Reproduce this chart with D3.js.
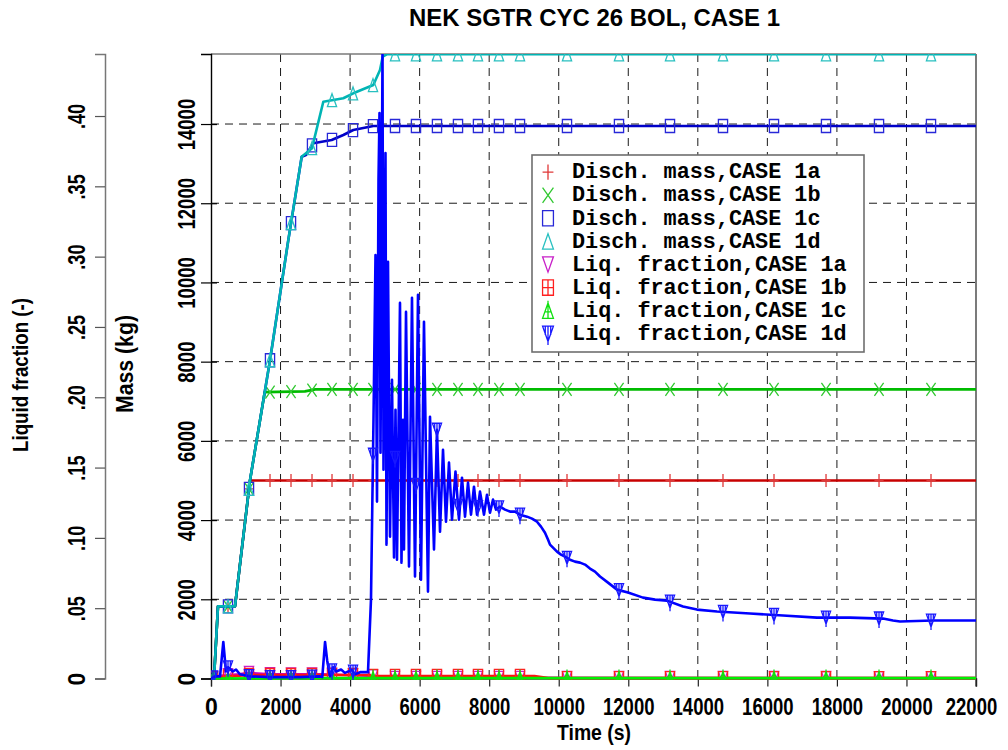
<!DOCTYPE html>
<html>
<head>
<meta charset="utf-8">
<script src="https://cdn.jsdelivr.net/npm/d3@7"></script>
<style>
  body { margin: 0; background: #fff; }
  svg { display: block; }
</style>
</head>
<body>
<svg id="chart" width="1008" height="750"></svg>
<script>
// ---- data -------------------------------------------------------------
const chartTitle = "NEK SGTR CYC 26 BOL, CASE 1";
const timeTicks = [0, 2000, 4000, 6000, 8000, 10000, 12000, 14000, 16000, 18000, 20000, 22000];
const massTicks = [0, 2000, 4000, 6000, 8000, 10000, 12000, 14000];
const fracTicks = [0, 0.05, 0.10, 0.15, 0.20, 0.25, 0.30, 0.35, 0.40];
const timeMax = 22000;
const massMax = 15768;
const fracMax = 0.4441;

// times (s) at which the plotting program put a symbol on every curve
const symbolTimes = [58, 489, 1093, 1697, 2301, 2905, 3480, 4084, 4659, 5292, 5895, 6499,
  7103, 7678, 8282, 8886, 10238, 11733, 13200, 14724, 16191, 17687, 19211, 20706];

// discharged mass (kg) vs time (s)
const massCase1a = [[0,0],[86,0],[201,1820],[690,1820],[1122,5000],[22000,5000]];
const massCase1b = [[0,0],[86,0],[201,1820],[690,1820],[1122,5004],[1545,7230],[2700,7250],
  [3000,7300],[22000,7300]];
const massCase1c = [[0,0],[86,0],[201,1820],[690,1820],[1122,5004],[1697,8036],[2223,11069],
  [2608,13174],[2732,13217],[2942,13513],[3471,13597],[3805,13723],[4092,13849],[4668,13950],
  [22000,13950]];
const massCase1d = [[0,0],[86,0],[201,1820],[690,1820],[1122,5004],[1697,8036],[2223,11069],
  [2608,13174],[2905,13390],[3230,14564],[3517,14607],[3805,14650],[4092,14776],[4668,14986],
  [4860,15365],[4938,15701],[5053,15760],[22000,15760]];

// break liquid fraction (-) vs time (s)
const fracCase1a = [[0,0],[250,0.002],[800,0.003],[1100,0.004],[1700,0.003],[3200,0.003],
  [4500,0.002],[5000,0.0005],[22000,0.0003]];
const fracCase1b = [[0,0],[250,0.001],[1100,0.0025],[4550,0.0025],[4600,0.0018],[9300,0.0018],
  [9700,0.0003],[22000,0.0003]];
const fracCase1c = [[0,0],[3000,0.0003],[22000,0.0003]];
const fracCase1d = [[0,0],[115,0.0015],[260,0.0015],[354,0.026],[430,0.005],[490,0.008],
  [630,0.005],[720,0.0064],[830,0.003],[1120,0.0015],[1700,0.001],[2560,0.001],[3130,0.0015],
  [3200,0.001],[3280,0.026],[3340,0.013],[3420,0.0015],[3510,0.008],[3600,0.005],[3740,0.0064],
  [3850,0.004],[4050,0.006],[4140,0.003],[4290,0.0045],[4515,0.0045],
  [4601,0.0561],[4673,0.184],[4731,0.3012],[4774,0.1258],[4817,0.3545],[4846,0.4021],
  [4875,0.1606],[4932,0.444],[4961,0.1485],[5018,0.3737],[5047,0.0952],[5090,0.2963],
  [5148,0.1009],[5205,0.2124],[5263,0.086],[5306,0.1911],[5349,0.0845],[5435,0.2671],
  [5478,0.0824],[5522,0.184],[5550,0.0917],[5608,0.2607],[5694,0.0796],[5780,0.2707],
  [5867,0.0725],[5953,0.2728],[6039,0.0703],[6125,0.2537],[6240,0.0618],[6298,0.1861],
  [6413,0.0917],[6499,0.1769],[6586,0.1044],[6672,0.1627],[6758,0.1115],[6844,0.1535],
  [6931,0.113],[7031,0.1471],[7132,0.113],[7218,0.1428],[7305,0.1151],[7391,0.1393],
  [7477,0.1165],[7563,0.1364],[7650,0.1165],[7736,0.1329],[7851,0.1165],[7937,0.1307],
  [8023,0.1179],[8110,0.1272],[8196,0.1201],[8311,0.1222],[8455,0.1201],[8599,0.1187],
  [8742,0.1187],[8886,0.1165],[9088,0.1151],[9231,0.1137],[9375,0.1115],[9490,0.108],
  [9605,0.1037],[9691,0.0988],[9749,0.0952],[9864,0.0924],[9950,0.0902],[10065,0.0881],
  [10180,0.0867],[10324,0.0845],[10468,0.0831],[10612,0.0824],[10756,0.081],[10899,0.0782],
  [11043,0.076],[11187,0.0725],[11417,0.0682],[11676,0.0632],[11992,0.0611],[12423,0.0575],
  [12769,0.0561],[13114,0.0554],[13574,0.0512],[13976,0.049],[14552,0.0476],[15501,0.0462],
  [16450,0.0448],[17427,0.0433],[18376,0.0433],[19325,0.0426],[19613,0.0412],[19814,0.0405],
  [20763,0.0412],[22000,0.0412]];

const seriesNames = ["Disch. mass,CASE 1a", "Disch. mass,CASE 1b", "Disch. mass,CASE 1c",
  "Disch. mass,CASE 1d", "Liq. fraction,CASE 1a", "Liq. fraction,CASE 1b",
  "Liq. fraction,CASE 1c", "Liq. fraction,CASE 1d"];

// ---- styling ----------------------------------------------------------
const sans = "'Liberation Sans',Arial,Helvetica,sans-serif";
const mono = "'Liberation Mono','Courier New','DejaVu Sans Mono',monospace";

const series = [
  { name: seriesNames[0], data: massCase1a, axis: "mass", line: "#c80000", mark: "#e03838", sym: "plus" },
  { name: seriesNames[1], data: massCase1b, axis: "mass", line: "#00bb00", mark: "#30c830", sym: "cross" },
  { name: seriesNames[2], data: massCase1c, axis: "mass", line: "#0000c8", mark: "#2828d8", sym: "rect" },
  { name: seriesNames[3], data: massCase1d, axis: "mass", line: "#00b4b4", mark: "#28c0c0", sym: "triUp" },
  { name: seriesNames[4], data: fracCase1a, axis: "frac", line: "#c800c8", mark: "#c820c8", sym: "triDown" },
  { name: seriesNames[5], data: fracCase1b, axis: "frac", line: "#ff1010", mark: "#ff2020", sym: "boxPlus" },
  { name: seriesNames[6], data: fracCase1c, axis: "frac", line: "#00f000", mark: "#10e010", sym: "triUpBar" },
  { name: seriesNames[7], data: fracCase1d, axis: "frac", line: "#0000ff", mark: "#1818ff", sym: "triDownBars" }
];

const plot = { left: 211, right: 976, top: 54, bottom: 678.5 };

const svg = d3.select("#chart");

const x = d3.scaleLinear().domain([0, timeMax]).range([plot.left, plot.right]);
const yMass = d3.scaleLinear().domain([0, massMax]).range([plot.bottom, plot.top]);
const yFrac = d3.scaleLinear().domain([0, fracMax]).range([plot.bottom, plot.top]);

svg.append("defs").append("clipPath").attr("id", "plotClip")
  .append("rect")
  .attr("x", plot.left).attr("y", plot.top)
  .attr("width", plot.right - plot.left).attr("height", plot.bottom - plot.top + 1.5);

// condensed bold labels: glyphs are squeezed to a fixed advance per character
const digitW = 10.3, dotW = 4.6;
const labelWidth = s => [...s].reduce((w, c) => w + (c === "." ? dotW : digitW), 0);
function boldLabel(sel, size) {
  sel.style("font-family", sans).style("font-weight", "bold").style("font-size", size + "px");
}
function squeezeTicks(sel) {
  sel.each(function () {
    const t = d3.select(this);
    const s = t.text();
    if (s.length > 1) t.attr("textLength", labelWidth(s)).attr("lengthAdjust", "spacingAndGlyphs");
  });
}

// ---- title ----
svg.append("text")
  .attr("x", 594.5).attr("y", 26)
  .attr("text-anchor", "middle")
  .attr("textLength", 371).attr("lengthAdjust", "spacingAndGlyphs")
  .call(boldLabel, 24)
  .text(chartTitle);

// ---- grid ----
const grid = svg.append("g");
grid.selectAll("line.v").data(timeTicks.filter(t => t > 0 && t < timeMax)).join("line")
  .attr("x1", d => x(d)).attr("x2", d => x(d))
  .attr("y1", plot.top).attr("y2", plot.bottom)
  .attr("stroke", "#1a1a1a").attr("stroke-width", 1).attr("stroke-dasharray", "8,6");
grid.selectAll("line.h").data(massTicks.filter(m => m > 0)).join("line")
  .attr("x1", plot.left).attr("x2", plot.right)
  .attr("y1", d => yMass(d)).attr("y2", d => yMass(d))
  .attr("stroke", "#1a1a1a").attr("stroke-width", 1).attr("stroke-dasharray", "8,6");

// ---- frame ----
svg.append("line").attr("x1", plot.left).attr("x2", plot.right).attr("y1", plot.top).attr("y2", plot.top)
  .attr("stroke", "#7a7a7a").attr("stroke-width", 1.5);
svg.append("line").attr("x1", plot.right).attr("x2", plot.right).attr("y1", plot.top).attr("y2", plot.bottom + 8)
  .attr("stroke", "#222").attr("stroke-width", 1.2);

// ---- axes ----
// time axis
const xAxis = d3.axisBottom(x).tickValues(timeTicks).tickSize(8).tickFormat(d3.format("d"));
const gx = svg.append("g").attr("transform", `translate(0,${plot.bottom})`).call(xAxis);
gx.select(".domain").attr("stroke", "#333").attr("stroke-width", 1.3);
gx.selectAll(".tick line").attr("stroke", "#222").attr("stroke-width", 1.2);
gx.selectAll(".tick text").attr("fill", "#000").attr("dy", null).attr("y", 36.5)
  .call(boldLabel, 23).call(squeezeTicks);
// keep the last label inside the page
gx.selectAll(".tick text").filter(d => d === timeMax).attr("x", -5);

svg.append("text")
  .attr("x", 594).attr("y", 740).attr("text-anchor", "middle")
  .attr("textLength", 74).attr("lengthAdjust", "spacingAndGlyphs")
  .call(boldLabel, 22)
  .text("Time  (s)");

// mass axis (left frame of the plot)
const yAxisMass = d3.axisLeft(yMass).tickValues(massTicks).tickSize(10).tickFormat(d3.format("d"));
const gm = svg.append("g").attr("transform", `translate(${plot.left},0)`).call(yAxisMass);
gm.select(".domain").attr("stroke", "#000").attr("stroke-width", 1.4);
gm.selectAll(".tick line").attr("stroke", "#000").attr("stroke-width", 1.2).attr("x2", -10).attr("x1", 6);
gm.selectAll(".tick text")
  .attr("x", null).attr("dy", null).attr("fill", "#000")
  .attr("text-anchor", "middle")
  .attr("transform", "translate(-16,0) rotate(-90)")
  .call(boldLabel, 23).call(squeezeTicks);

svg.append("text")
  .attr("transform", "translate(133,364) rotate(-90)")
  .attr("text-anchor", "middle")
  .attr("textLength", 98).attr("lengthAdjust", "spacingAndGlyphs")
  .call(boldLabel, 23)
  .text("Mass  (kg)");

// liquid fraction axis (detached, further left)
const fracAxisX = 105;
const yAxisFrac = d3.axisLeft(yFrac).tickValues(fracTicks).tickSize(10)
  .tickFormat(d => d === 0 ? "0" : d3.format(".2f")(d).replace(/^0/, ""));
const gf = svg.append("g").attr("transform", `translate(${fracAxisX},0)`).call(yAxisFrac);
gf.select(".domain").attr("stroke", "#777").attr("stroke-width", 1.5);
gf.selectAll(".tick line").attr("stroke", "#555").attr("stroke-width", 1.2);
gf.selectAll(".tick text")
  .attr("x", null).attr("dy", null).attr("fill", "#000")
  .attr("text-anchor", "middle")
  .attr("transform", "translate(-20,0) rotate(-90)")
  .call(boldLabel, 23).call(squeezeTicks);

svg.append("text")
  .attr("transform", "translate(28,375) rotate(-90)")
  .attr("text-anchor", "middle")
  .attr("textLength", 154).attr("lengthAdjust", "spacingAndGlyphs")
  .call(boldLabel, 22)
  .text("Liquid fraction  (-)");

// ---- symbols ----
function symbolPath(type, cx, cy, s) {
  const p = d3.path();
  const w = 4.6 * s, h = 6.5 * s;
  switch (type) {
    case "plus":
      p.moveTo(cx - w, cy); p.lineTo(cx + w, cy);
      p.moveTo(cx, cy - h); p.lineTo(cx, cy + h);
      break;
    case "cross":
      p.moveTo(cx - w, cy - h); p.lineTo(cx + w, cy + h);
      p.moveTo(cx + w, cy - h); p.lineTo(cx - w, cy + h);
      break;
    case "rect":
      p.rect(cx - w, cy - h, 2 * w, 2 * h);
      break;
    case "triUp":
      p.moveTo(cx, cy - h); p.lineTo(cx + w, cy + h); p.lineTo(cx - w, cy + h); p.closePath();
      break;
    case "triDown":
      p.moveTo(cx - w, cy - h); p.lineTo(cx + w, cy - h); p.lineTo(cx, cy + h); p.closePath();
      break;
    case "boxPlus":
      p.rect(cx - w, cy - h, 2 * w, 2 * h);
      p.moveTo(cx - w, cy); p.lineTo(cx + w, cy);
      p.moveTo(cx, cy - h); p.lineTo(cx, cy + h);
      break;
    case "triUpBar":
      p.moveTo(cx, cy - h); p.lineTo(cx + w, cy + h); p.lineTo(cx - w, cy + h); p.closePath();
      p.moveTo(cx, cy - h - 2 * s); p.lineTo(cx, cy + h);
      p.moveTo(cx - w * 0.55, cy + 1 * s); p.lineTo(cx + w * 0.55, cy + 1 * s);
      break;
    case "triDownBars":
      p.moveTo(cx - w, cy - h); p.lineTo(cx + w, cy - h); p.lineTo(cx, cy + h); p.closePath();
      p.moveTo(cx, cy - h); p.lineTo(cx, cy + h + 3 * s);
      p.moveTo(cx - w * 0.5, cy - h); p.lineTo(cx - w * 0.5, cy + 1 * s);
      p.moveTo(cx + w * 0.5, cy - h); p.lineTo(cx + w * 0.5, cy + 1 * s);
      break;
  }
  return p.toString();
}

// ---- curves ----
const plotArea = svg.append("g").attr("clip-path", "url(#plotClip)");
series.forEach(s => {
  const yScale = s.axis === "mass" ? yMass : yFrac;
  const line = d3.line().x(d => x(d[0])).y(d => yScale(d[1]));
  plotArea.append("path")
    .datum(s.data)
    .attr("d", line)
    .attr("fill", "none")
    .attr("stroke", s.line)
    .attr("stroke-width", 2.6)
    .attr("stroke-linejoin", "round");

  // value of the curve at each symbol time (linear between samples)
  const at = d3.scaleLinear().domain(s.data.map(d => d[0])).range(s.data.map(d => d[1]));
  plotArea.append("g").selectAll("path")
    .data(symbolTimes)
    .join("path")
    .attr("d", t => symbolPath(s.sym, x(t), yScale(at(t)), 1))
    .attr("fill", "none")
    .attr("stroke", s.mark)
    .attr("stroke-width", 1.3);
});

// ---- legend ----
const legend = svg.append("g");
legend.append("rect")
  .attr("x", 532).attr("y", 155).attr("width", 332).attr("height", 197)
  .attr("fill", "#fff").attr("stroke", "#6e6e6e").attr("stroke-width", 1.6);
series.forEach((s, i) => {
  const base = 178.3 + 23.1 * i;
  legend.append("path")
    .attr("d", symbolPath(s.sym, 548, base - 6.2, 1.18))
    .attr("fill", "none").attr("stroke", s.mark).attr("stroke-width", 1.3);
  legend.append("text")
    .attr("x", 572).attr("y", base)
    .style("font-family", mono).style("font-weight", "bold").style("font-size", "21.8px")
    .text(s.name);
});
</script>
</body>
</html>
